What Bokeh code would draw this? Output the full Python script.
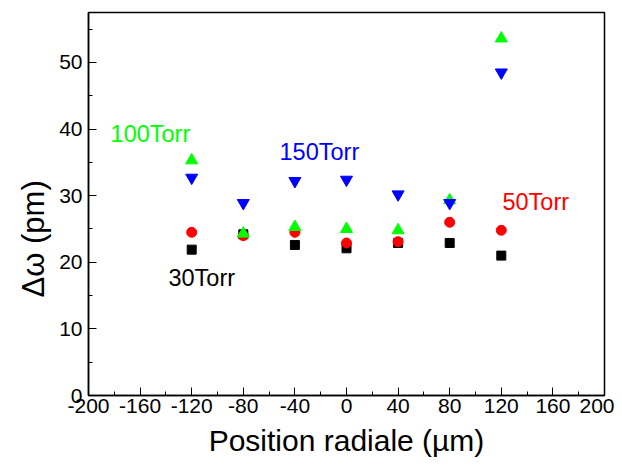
from bokeh.plotting import figure
from bokeh.models import FixedTicker, Range1d, Label, Title
from bokeh.embed import file_html
from bokeh.resources import INLINE

positions = [-120, -80, -40, 0, 40, 80, 120]
torr30 = [21.9, 24.2, 22.6, 22.1, 22.9, 22.9, 21.0]
torr50 = [24.5, 24.0, 24.5, 22.9, 23.1, 26.0, 24.8]
torr100 = [35.3, 24.3, 25.3, 25.0, 24.8, 29.3, 53.6]
torr150 = [32.7, 28.9, 32.2, 32.4, 30.2, 28.9, 48.5]
x_ticks = [-200, -160, -120, -80, -40, 0, 40, 80, 120, 160, 200]
x_tick_labels = ["-200", "-160", "-120", "-80", "-40", "0", "40", "80", "120", "160", "200"]
x_minor = [-180, -140, -100, -60, -20, 20, 60, 100, 140, 180]
y_ticks = [0, 10, 20, 30, 40, 50]
y_minor = [5, 15, 25, 35, 45, 55]
series_names = ["30Torr", "50Torr", "100Torr", "150Torr"]

FONT = "Liberation Sans"

p = figure(width=614, height=463, output_backend="svg", toolbar_location=None,
           x_range=Range1d(-200, 200), y_range=Range1d(0, 57.5),
           min_border_left=88, min_border_right=10, min_border_top=12, min_border_bottom=68)
p.grid.visible = False
p.outline_line_color = "black"
p.outline_line_width = 1.5

p.xaxis.ticker = FixedTicker(ticks=x_ticks, minor_ticks=x_minor)
p.xaxis.major_label_overrides = {t: s for t, s in zip(x_ticks, x_tick_labels)}
p.yaxis.ticker = FixedTicker(ticks=y_ticks, minor_ticks=y_minor)
p.xaxis.axis_label = "Position radiale (µm)"
for ax in (p.xaxis[0], p.yaxis[0]):
    ax.axis_line_width = 1.5
    ax.major_tick_in = 8
    ax.major_tick_out = 0
    ax.minor_tick_in = 4
    ax.minor_tick_out = 0
    ax.major_label_text_font = FONT
    ax.major_label_text_font_size = "21px"
    ax.major_label_text_color = "black"
    ax.axis_label_text_font = FONT
    ax.axis_label_text_font_size = "30px"
    ax.axis_label_text_font_style = "normal"
    ax.axis_label_text_color = "black"
p.xaxis.major_label_standoff = 3
p.yaxis.major_label_standoff = 6
p.xaxis.axis_label_standoff = 8

# y-axis title, placed below the axis centre as in the reference
p.add_layout(Title(text="Δω (pm)", align="left", offset=98, text_font=FONT,
                   text_font_size="31px", text_font_style="normal",
                   text_color="black", standoff=12), "left")

p.scatter(positions, torr30, marker="square", size=9, color="black")
p.scatter(positions, torr50, marker="circle", size=10, color="#ff0000")
p.scatter(positions, torr100, marker="triangle", size=12, color="#00ff00")
p.scatter(positions, torr150, marker="inverted_triangle", size=12, color="#0000ff")

label_specs = [
    (series_names[0], -138, 17.7, "black"),
    (series_names[1], 120.9, 29.0, "#ff0000"),
    (series_names[2], -182.9, 39.3, "#00ff00"),
    (series_names[3], -51.9, 36.5, "#0000ff"),
]
for txt, lx, ly, col in label_specs:
    p.add_layout(Label(x=lx, y=ly, text=txt, text_color=col, text_font=FONT,
                       text_font_size="23.5px", text_baseline="middle", text_align="left"))

with open("out.html", "w") as f:
    f.write(file_html(p, INLINE))
